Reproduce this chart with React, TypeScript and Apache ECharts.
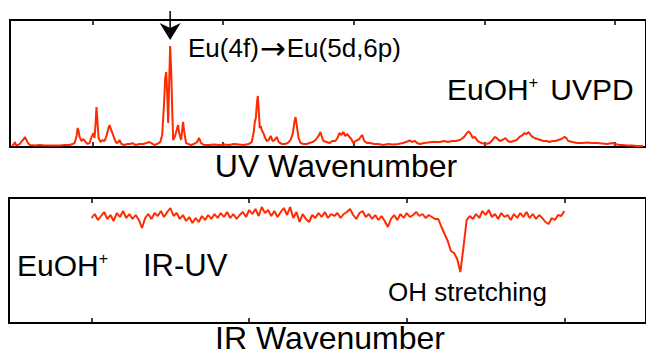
import React, { useEffect, useRef } from "react";
import * as echarts from "echarts";

// ---------- UV photodissociation spectrum (arbitrary wavenumber units, intensity 0-100) ----------
const uvWavenumber = [
  38.3, 39.8, 40.6, 41.3, 42.9, 44.4, 45.9, 47.4, 48.2, 49.0, 50.5, 52.0, 55.8, 59.6, 63.4, 67.2, 71.0, 74.9, 78.7, 82.5,
  84.8, 86.3, 87.8, 88.6, 89.3, 90.1, 91.6, 93.1, 94.7, 96.2, 97.7, 99.2, 100.8, 101.5, 102.3, 103.0, 103.8, 104.6, 106.1, 107.6,
  109.1, 110.7, 112.2, 113.0, 113.7, 115.2, 116.8, 118.3, 119.8, 120.6, 122.1, 124.4, 126.7, 129.0, 130.5, 132.8, 135.8, 138.9, 141.1, 143.4,
  145.0, 147.2, 149.5, 151.8, 153.3, 154.9, 155.6, 156.4, 157.2, 157.9, 158.7, 159.4, 160.2, 161.0, 161.7, 163.2, 164.8, 165.5, 166.3, 167.8,
  168.6, 169.3, 170.1, 171.6, 173.2, 175.4, 177.7, 180.0, 181.5, 183.1, 185.3, 189.2, 193.0, 196.8, 200.6, 204.4, 208.2, 212.0, 215.8, 219.6,
  221.9, 223.4, 224.2, 225.0, 225.7, 226.5, 227.3, 228.0, 228.8, 229.5, 231.1, 231.8, 233.4, 234.9, 236.4, 237.9, 239.4, 241.0, 242.5, 244.8,
  247.1, 249.4, 251.6, 253.2, 254.7, 255.4, 256.2, 257.7, 259.3, 261.5, 263.8, 266.1, 268.4, 270.7, 273.0, 274.5, 275.3, 276.8, 279.1, 281.4,
  283.6, 285.9, 287.5, 289.0, 290.5, 292.0, 293.5, 295.1, 296.6, 298.1, 299.6, 301.2, 302.7, 304.2, 305.7, 306.5, 308.0, 310.3, 312.6, 315.6,
  318.7, 322.5, 326.3, 330.1, 333.9, 337.7, 340.0, 341.6, 343.1, 344.6, 346.9, 348.4, 350.7, 353.7, 356.8, 359.8, 362.9, 365.9, 369.0, 372.0,
  375.1, 378.1, 381.2, 383.5, 385.0, 386.5, 388.0, 389.6, 391.1, 392.6, 394.9, 397.9, 401.0, 404.0, 406.3, 407.8, 409.4, 411.7, 413.9, 416.2,
  417.8, 420.0, 422.3, 424.6, 426.9, 429.2, 430.7, 432.2, 433.8, 435.3, 436.8, 438.3, 440.6, 442.9, 445.2, 447.5, 449.8, 452.0, 454.3, 456.6,
  458.9, 461.2, 462.7, 464.2, 467.3, 471.1, 474.9, 478.7, 482.5, 486.3, 490.1, 494.0, 497.8, 500.1, 503.1, 506.1, 509.2, 513.0, 516.8, 521.4,
];
const uvSignal = [
  0.8, 2.4, 3.9, 1.6, 1.6, 2.4, 4.7, 6.3, 7.9, 6.3, 3.1, 1.6, 1.2, 1.6, 1.2, 1.2, 1.2, 1.2, 1.6, 1.6,
  2.4, 3.1, 8.7, 15.0, 12.6, 7.9, 4.7, 6.3, 3.9, 2.4, 3.1, 7.9, 11.0, 7.1, 18.1, 31.5, 19.7, 7.1, 3.9, 5.5,
  4.7, 8.7, 15.0, 17.3, 15.0, 11.0, 6.3, 3.1, 3.9, 5.5, 2.4, 1.6, 2.4, 2.4, 3.1, 1.6, 2.4, 2.4, 3.1, 3.9,
  3.1, 1.6, 2.4, 3.9, 9.4, 37.0, 54.3, 59.1, 40.9, 18.9, 52.8, 79.5, 60.6, 29.1, 5.5, 8.7, 15.0, 17.3, 11.0, 5.5,
  13.4, 19.7, 12.6, 3.1, 2.4, 1.6, 2.4, 3.9, 7.1, 3.1, 1.6, 1.6, 2.0, 1.6, 2.0, 1.6, 2.4, 2.0, 1.6, 2.4,
  3.9, 11.8, 19.7, 22.8, 33.1, 40.2, 27.6, 15.0, 16.5, 13.4, 10.2, 7.9, 4.7, 5.5, 8.7, 4.7, 5.5, 7.9, 3.9, 2.4,
  2.4, 3.1, 5.5, 10.2, 20.5, 23.6, 18.1, 7.1, 3.1, 2.4, 2.4, 3.1, 3.9, 5.5, 8.7, 11.8, 8.7, 4.7, 3.9, 3.1,
  4.7, 4.7, 7.1, 11.0, 9.4, 11.8, 8.7, 10.2, 7.9, 6.3, 3.1, 4.7, 5.5, 6.3, 8.7, 9.4, 4.7, 3.1, 3.1, 2.4,
  2.4, 1.6, 2.4, 2.0, 2.4, 3.1, 3.9, 4.7, 5.1, 3.9, 4.7, 3.1, 2.4, 3.1, 3.5, 3.9, 3.9, 3.9, 4.7, 3.9,
  4.7, 4.7, 5.5, 7.1, 8.7, 11.0, 12.2, 10.2, 7.1, 7.9, 4.7, 3.1, 2.4, 3.1, 5.5, 7.9, 7.1, 4.7, 5.5, 7.1,
  4.7, 3.9, 4.7, 5.5, 7.9, 9.4, 11.0, 10.2, 11.8, 9.4, 7.9, 7.1, 6.3, 5.5, 4.7, 4.7, 3.9, 4.7, 4.7, 5.5,
  6.3, 7.9, 7.1, 4.7, 3.9, 3.1, 3.1, 3.5, 3.1, 3.1, 2.8, 2.4, 3.1, 2.4, 1.6, 1.6, 1.2, 1.2, 0.8, 0.8,
];

// ---------- IR-UV depletion spectrum, sampled every 2 cm-1 from 3400 cm-1 ----------
const irStart = 3400;
const irStep = 2;
const irSignal = [
  84.0, 87.2, 82.4, 85.6, 88.8, 83.2, 86.4, 81.6, 88.0, 84.8, 89.6, 84.0, 87.2, 83.2, 86.4, 82.4, 76.0, 84.0, 87.2, 83.2,
  88.0, 85.6, 89.6, 84.8, 88.8, 92.0, 85.6, 88.0, 83.2, 86.4, 81.6, 84.8, 80.0, 84.0, 80.8, 85.6, 82.4, 86.4, 83.2, 87.2,
  84.0, 88.0, 84.8, 88.8, 84.0, 87.2, 83.2, 86.4, 88.8, 84.8, 90.4, 87.2, 91.2, 85.6, 92.8, 88.0, 90.4, 85.6, 89.6, 84.8,
  88.8, 92.0, 86.4, 92.8, 84.0, 88.8, 80.8, 87.2, 83.2, 80.8, 86.4, 84.0, 88.0, 84.8, 88.8, 84.0, 87.2, 85.6, 88.0, 84.0,
  87.2, 88.8, 91.2, 86.4, 83.2, 88.0, 89.6, 84.8, 87.2, 83.2, 86.4, 82.4, 85.6, 81.6, 76.8, 83.2, 86.4, 82.4, 87.2, 84.0,
  88.0, 84.8, 86.4, 88.8, 85.6, 87.2, 84.0, 86.4, 84.8, 83.2, 83.2, 76.8, 71.2, 65.6, 57.6, 56.0, 51.2, 40.8, 60.8, 82.4,
  85.6, 83.2, 87.2, 84.0, 89.6, 86.4, 90.4, 84.8, 87.2, 83.2, 88.0, 84.8, 86.4, 82.4, 87.2, 84.0, 88.0, 84.8, 88.8, 84.0,
  87.2, 83.2, 86.4, 84.0, 80.8, 79.2, 84.0, 82.4, 86.4, 85.6, 89.6,
];

// ---------- axis ticks (unlabelled in the original) ----------
const uvTicks = [100, 200, 300, 400, 500];
const irTicks = [3400, 3500, 3600, 3700];

const RED = "#ff2a00";
const FONT = "'Liberation Sans', Arial, 'DejaVu Sans', sans-serif";

export default function App() {
  const ref = useRef<HTMLDivElement>(null);

  useEffect(() => {
    if (!ref.current) return;
    const chart = echarts.init(ref.current, null, { renderer: "svg" });

    const uvData = uvWavenumber.map((x, i) => [x, uvSignal[i]]);
    const irData = irSignal.map((y, i) => [irStart + i * irStep, y]);

    const axisLine = { show: true, onZero: false, lineStyle: { color: "#000", width: 2 } };
    const xTick = (vals: number[]) => ({
      show: true,
      inside: true,
      length: 5,
      customValues: vals,
      lineStyle: { color: "#000", width: 1.5 },
    });
    const yTick = (len: number) => ({
      show: true,
      inside: true,
      length: len,
      lineStyle: { color: "#000", width: 2 },
    });

    const uvMin = 36.8, uvMax = 523.7;
    const irMin = 3347.6, irMax = 3751.8;

    const mkX = (grid: number, pos: string, min: number, max: number, ticks: number[]) => ({
      type: "value",
      gridIndex: grid,
      position: pos,
      min,
      max,
      axisLine,
      axisTick: xTick(ticks),
      axisLabel: { show: false },
      splitLine: { show: false },
    });
    const mkY = (grid: number, pos: string, len: number) => ({
      type: "value",
      gridIndex: grid,
      position: pos,
      min: 0,
      max: 100,
      interval: 100,
      axisLine,
      axisTick: yTick(len),
      axisLabel: { show: false },
      splitLine: { show: false },
    });

    chart.setOption({
      animation: false,
      backgroundColor: "#fff",
      grid: [
        { left: 10, top: 20, right: -3, height: 127 },
        { left: 9, top: 198, right: -3, height: 125 },
      ],
      xAxis: [
        mkX(0, "bottom", uvMin, uvMax, uvTicks),
        mkX(0, "top", uvMin, uvMax, uvTicks),
        mkX(1, "bottom", irMin, irMax, irTicks),
        mkX(1, "top", irMin, irMax, irTicks),
      ],
      yAxis: [mkY(0, "left", 12), mkY(0, "right", 12), mkY(1, "left", 16), mkY(1, "right", 14)],
      series: [
        {
          type: "line",
          xAxisIndex: 0,
          yAxisIndex: 0,
          data: uvData,
          showSymbol: false,
          silent: true,
          lineStyle: { color: RED, width: 2 },
        },
        {
          type: "line",
          xAxisIndex: 2,
          yAxisIndex: 2,
          data: irData,
          showSymbol: false,
          silent: true,
          lineStyle: { color: RED, width: 2 },
        },
      ],
    });

    // locate the strongest UV peak to anchor the arrow
    let pk = 0;
    uvSignal.forEach((v, i) => {
      if (v > uvSignal[pk]) pk = i;
    });
    const [ax, ay] = chart.convertToPixel({ xAxisIndex: 0, yAxisIndex: 0 }, [uvWavenumber[pk], uvSignal[pk]]) as number[];
    const tipY = ay - 6;

    const txt = (text: string, x: number, y: number, size: number, align = "left", rich?: any) => ({
      type: "text",
      silent: true,
      style: {
        text,
        x,
        y,
        fill: "#000",
        fontSize: size,
        fontFamily: FONT,
        textAlign: align,
        textVerticalAlign: "middle",
        rich,
      },
    });
    const supRich = (size: number) => ({
      a: { fontSize: size, fontFamily: FONT, fill: "#000" },
      s: { fontSize: 16, fontFamily: FONT, fill: "#000", verticalAlign: "top", padding: [0, 4, 0, 0] },
    });
    const arrowRich = {
      a: { fontSize: 26, fontFamily: FONT, fill: "#000" },
      r: { fontSize: 31, fontFamily: "'DejaVu Sans', sans-serif", fill: "#000", padding: [0, 1, 0, 1] },
    };

    chart.setOption({
      graphic: [
        {
          type: "line",
          silent: true,
          shape: { x1: ax, y1: 11, x2: ax, y2: tipY - 10 },
          style: { stroke: "#000", lineWidth: 1.5 },
        },
        {
          type: "polygon",
          silent: true,
          shape: {
            points: [
              [ax - 10.5, tipY - 17],
              [ax, tipY - 12],
              [ax + 10.5, tipY - 17],
              [ax, tipY],
            ],
          },
          style: { fill: "#000" },
        },
        txt("{a|Eu(4f)}{r|→}{a|Eu(5d,6p)}", 188, 48, 26, "left", arrowRich),
        txt("{a|EuOH}{s|+}{a| UVPD}", 447, 89, 30, "left", supRich(30)),
        txt("UV Wavenumber", 336, 166, 32, "center"),
        txt("{a|EuOH}{s|+}", 17, 265, 30, "left", supRich(30)),
        txt("IR-UV", 143, 265, 31),
        txt("OH stretching", 388, 292, 26),
        txt("IR Wavenumber", 330, 337.5, 32, "center"),
      ],
    });

    return () => chart.dispose();
  }, []);

  return <div ref={ref} style={{ position: "fixed", left: 0, top: 0, width: 646, height: 354 }} />;
}
